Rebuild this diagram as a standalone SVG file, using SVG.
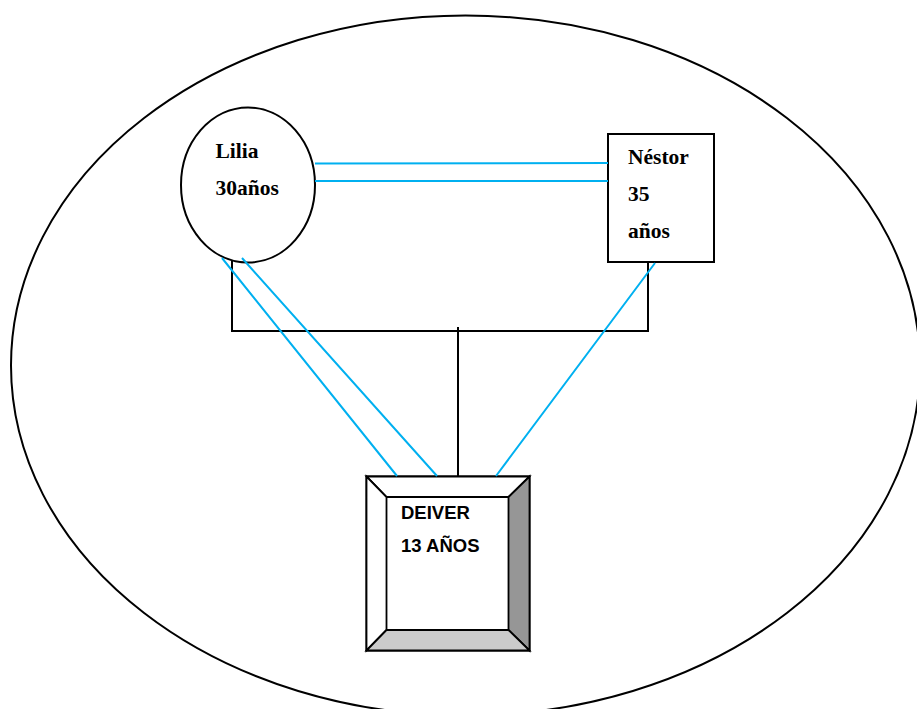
<svg xmlns="http://www.w3.org/2000/svg" width="917" height="709" viewBox="0 0 917 709">
<style>
.k{fill:none;stroke:#000;stroke-width:2}
.c{fill:none;stroke:#00b0f0;stroke-width:2}
.s{fill:#fff;stroke:#000;stroke-width:2}
.b{stroke:#000;stroke-width:1.8;stroke-linejoin:miter}
.t{font:bold 21.5px "Liberation Serif",serif;fill:#000}
.a{font:bold 18.500px "Liberation Sans",sans-serif;fill:#000}
</style>
<rect width="917" height="709" fill="#fff"/>
<g id="family"><ellipse class="s" cx="465.500" cy="365.500" rx="454.500" ry="350"/></g>
<g id="lilia"><ellipse class="s" cx="248" cy="185" rx="67" ry="77.500"/>
<text class="t" x="215.500" y="158">Lilia</text><text class="t" x="215.500" y="195">30años</text></g>
<g id="nestor"><rect class="s" x="608" y="134" width="106" height="128"/>
<text class="t" x="628" y="164">Néstor</text><text class="t" x="628" y="201">35</text><text class="t" x="628" y="238">años</text></g>
<g id="deiver">
<rect class="s" x="366.500" y="476.500" width="163" height="174"/>
<path class="b" fill="#fff" d="M366.500 476.500H529.500L508.500 497H386.500Z"/>
<path class="b" fill="#fff" d="M366.500 476.500L386.500 497V630L366.500 650.500Z"/>
<path class="b" fill="#969696" d="M529.500 476.500V650.500L508.500 630V497Z"/>
<path class="b" fill="#cbcbcb" d="M366.500 650.500L386.500 630H508.500L529.500 650.500Z"/>
<text class="a" x="401" y="519">DEIVER</text><text class="a" x="401" y="552">13 AÑOS</text>
</g>
<g id="connectors">
<path class="k" d="M232 261V331H648V262M458 327V476"/>
<path class="c" d="M315 163.500L608 163M315 181H608M222 258L397 476M242 258L437 476M655 263L496 476"/>
</g>
</svg>
